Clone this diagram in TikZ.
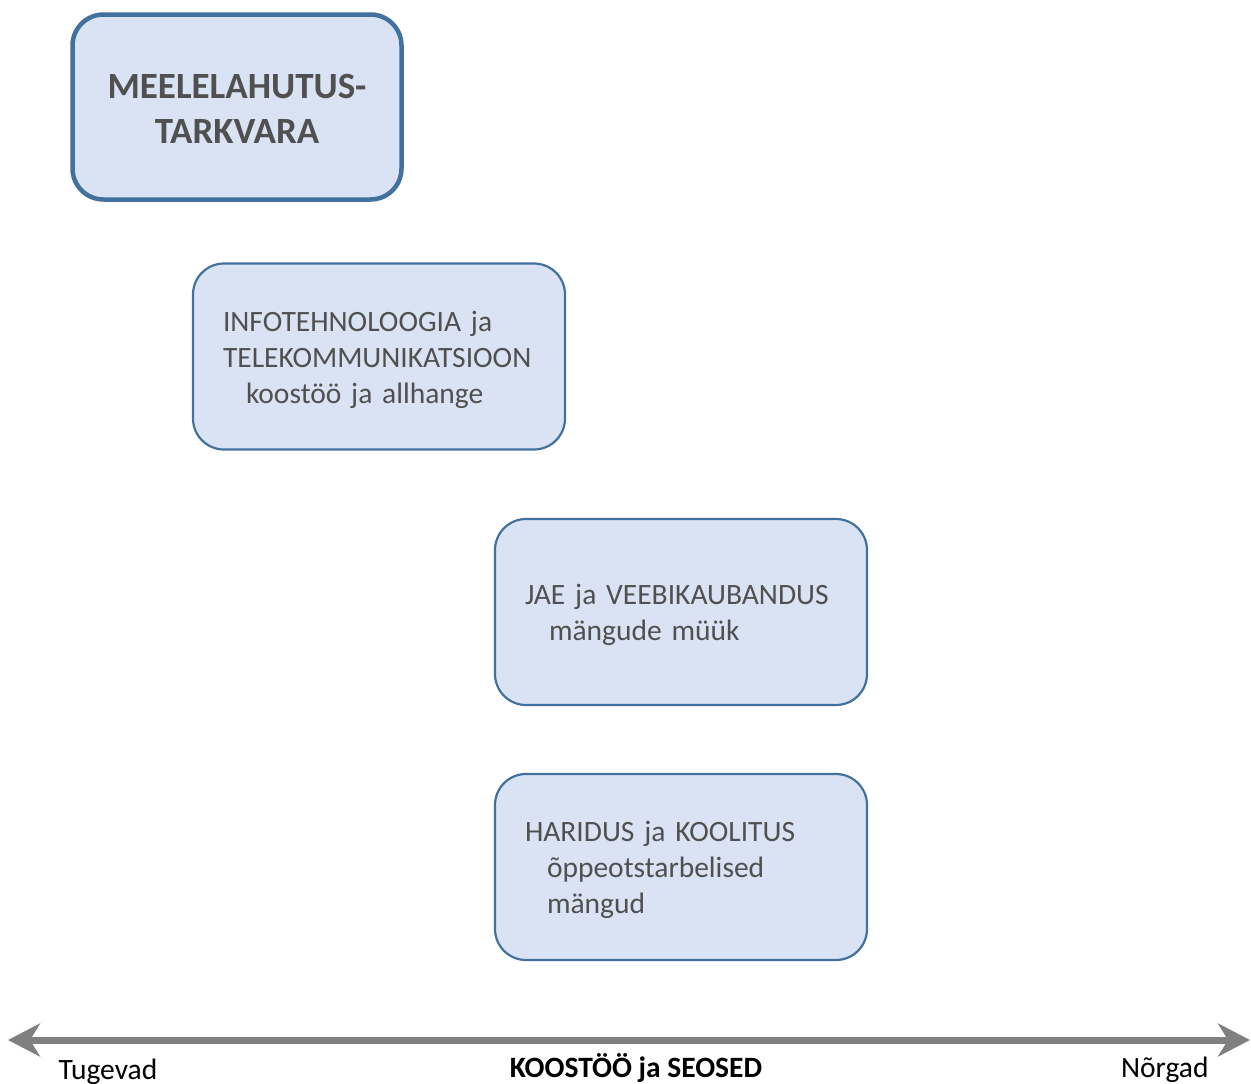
\documentclass[tikz,border=0pt]{standalone}
\usepackage{fontspec}
\setmainfont{Carlito}
\usepackage{tikz}
\usetikzlibrary{arrows.meta,positioning}

\definecolor{boxfill}{HTML}{DAE3F3}
\definecolor{boxline}{HTML}{41719C}
\definecolor{boxtext}{HTML}{505050}
\definecolor{axisgray}{HTML}{808080}

\begin{document}
\begin{tikzpicture}[
            x=1pt, y=-1pt,
            sector/.style={draw=boxline, line width=2.2pt, fill=boxfill,
                rounded corners=31pt, minimum width=372pt, minimum height=186pt,
                inner xsep=30pt, inner ysep=0pt, text width=312pt, align=left,
                text=boxtext, font=\fontsize{29.5}{36}\selectfont,
                execute at begin node={\rule{0pt}{27pt}}},
            axislabel/.style={font=\fontsize{29.5}{35}\selectfont}
        ]
            \useasboundingbox (0,0) rectangle (1251,1084);

            \node [sector, line width=4.5pt, minimum width=329pt, minimum height=185pt,
                   text width=300pt, inner xsep=14pt, align=center,
                   font=\fontsize{37}{45}\bfseries\selectfont,
                   execute at begin node={\rule{0pt}{28pt}}] (games) at (237,107)
                {MEELELAHUTUS-\\TARKVARA};

            \node [sector] (ict) at (379,356.5)
                {INFOTEHNOLOOGIA ja\\TELEKOMMUNIKATSIOON\\\hspace*{23pt}koostöö ja allhange};
            \node [sector] (retail) at (681,612)
                {JAE ja VEEBIKAUBANDUS\\\hspace*{24pt}mängude müük};
            \node [sector] (edu) at (681,867)
                {HARIDUS ja KOOLITUS\\\hspace*{22pt}õppeotstarbelised\\\hspace*{22pt}mängud};

            % koostoo telg
            \coordinate (strong) at (8,1040);
            \coordinate (weak) at (1250,1040);
            \draw [axisgray, line width=7pt,
                   {Stealth[length=32pt,width=33pt,inset=10pt]}-{Stealth[length=32pt,width=33pt,inset=10pt]}]
                (strong) -- (weak);

            \node [axislabel, anchor=base west] (tugevad) at (55,1079) {Tugevad};
            \node [axislabel, anchor=base, font=\fontsize{29.5}{35}\bfseries\selectfont] (koostoo) at (636,1077) {KOOSTÖÖ ja SEOSED};
            \node [axislabel, anchor=base east] (norgad) at (1212,1077) {Nõrgad};
        \end{tikzpicture}
\end{document}
